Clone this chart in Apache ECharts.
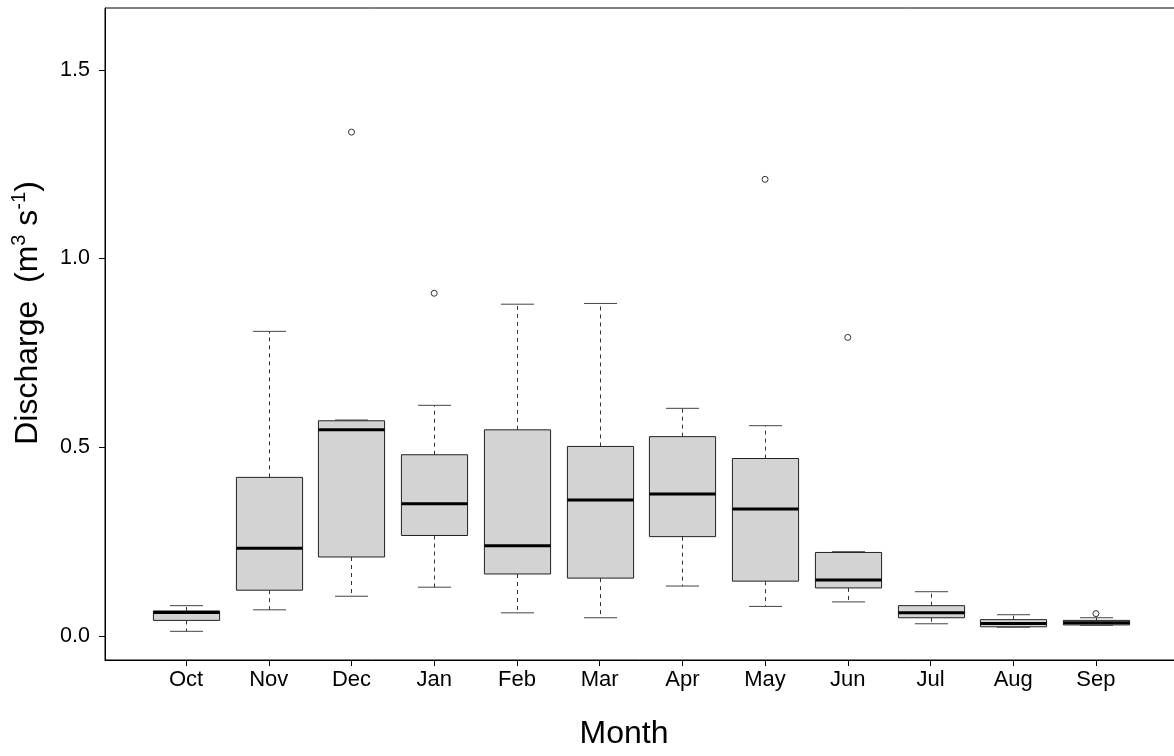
<!DOCTYPE html>
<html><head><meta charset="utf-8">
<script src="https://cdn.jsdelivr.net/npm/echarts@6/dist/echarts.min.js"></script>
<style>html,body{margin:0;padding:0;background:#fff;overflow:hidden}#c{width:1174px;height:756px}</style>
</head><body><div id="c"></div>
<script>
const months = ['Oct','Nov','Dec','Jan','Feb','Mar','Apr','May','Jun','Jul','Aug','Sep'];
const whiskerLow  = [0.012, 0.069, 0.105, 0.129, 0.061, 0.048, 0.132, 0.078, 0.090, 0.032, 0.023, 0.028];
const q1          = [0.041, 0.121, 0.209, 0.266, 0.164, 0.153, 0.263, 0.145, 0.127, 0.048, 0.024, 0.029];
const medians     = [0.062, 0.232, 0.546, 0.350, 0.239, 0.360, 0.376, 0.336, 0.148, 0.061, 0.033, 0.035];
const q3          = [0.066, 0.420, 0.570, 0.480, 0.546, 0.502, 0.528, 0.470, 0.221, 0.080, 0.043, 0.041];
const whiskerHigh = [0.080, 0.807, 0.572, 0.611, 0.879, 0.881, 0.603, 0.557, 0.223, 0.117, 0.056, 0.048];
const outlierMonth = ['Dec','Jan','May','Jun','Sep'];
const outlierValue = [1.335, 0.908, 1.210, 0.791, 0.059];
const yTicks = [0, 0.5, 1.0, 1.5];

const FONT = '"Liberation Sans", Arial, sans-serif';
const positions = months.map((m, i) => i + 1);
const boxData = months.map((m, i) => [i + 1, whiskerLow[i], q1[i], medians[i], q3[i], whiskerHigh[i]]);
const outlierData = outlierMonth.map((m, i) => [months.indexOf(m) + 1, outlierValue[i]]);

function renderBox(params, api) {
  const x = api.value(0);
  const boxHalf = api.size([0.4, 0])[0];
  const capHalf = api.size([0.2, 0])[0];
  const pLo = api.coord([x, api.value(1)]);
  const pQ1 = api.coord([x, api.value(2)]);
  const pMed = api.coord([x, api.value(3)]);
  const pQ3 = api.coord([x, api.value(4)]);
  const pHi = api.coord([x, api.value(5)]);
  const cx = Math.round(pLo[0]) + 0.5;
  const wStyle = { stroke: '#333', lineWidth: 1, lineDash: [4, 4] };
  const cStyle = { stroke: '#444', lineWidth: 1 };
  return {
    type: 'group',
    children: [
      { type: 'line', shape: { x1: cx, y1: pQ3[1], x2: cx, y2: pHi[1] }, style: wStyle },
      { type: 'line', shape: { x1: cx, y1: pQ1[1], x2: cx, y2: pLo[1] }, style: wStyle },
      { type: 'line', shape: { x1: cx - capHalf, y1: pHi[1], x2: cx + capHalf, y2: pHi[1] }, style: cStyle },
      { type: 'line', shape: { x1: cx - capHalf, y1: pLo[1], x2: cx + capHalf, y2: pLo[1] }, style: cStyle },
      { type: 'rect', shape: { x: cx - boxHalf, y: pQ3[1], width: 2 * boxHalf, height: pQ1[1] - pQ3[1] },
        style: { fill: '#D3D3D3', stroke: '#222', lineWidth: 1 } },
      { type: 'line', shape: { x1: cx - boxHalf, y1: pMed[1], x2: cx + boxHalf, y2: pMed[1] },
        style: { stroke: '#000', lineWidth: 3 } }
    ]
  };
}

const chart = echarts.init(document.getElementById('c'), null, { renderer: 'canvas' });
chart.setOption({
  animation: false,
  backgroundColor: '#fff',
  grid: { left: 105, right: -3, top: 8, bottom: 96, outerBoundsMode: 'none', containLabel: false,
    show: true, borderColor: '#000', borderWidth: 1, backgroundColor: 'transparent' },
  xAxis: {
    type: 'value', min: 0.02, max: 12.98,
    name: 'Month', nameLocation: 'middle', nameGap: 58,
    nameTextStyle: { fontFamily: FONT, fontSize: 32, color: '#000', padding: [0, 34, 0, 0] },
    axisLine: { show: true, onZero: false, lineStyle: { color: '#000', width: 1 } },
    axisTick: { show: true, customValues: positions, length: 6, lineStyle: { color: '#000' } },
    axisLabel: { show: true, customValues: positions, margin: 9, fontFamily: FONT, fontSize: 22, color: '#000',
      formatter: v => months[Math.round(v) - 1] || '' },
    splitLine: { show: false }
  },
  yAxis: {
    type: 'value', min: -0.064, max: 1.664,
    name: '{a|Discharge  (m}{s|3}{a| s}{s|-1}{a|)}', nameLocation: 'middle', nameGap: 58, nameRotate: 90,
    nameTextStyle: {
      fontFamily: FONT, fontSize: 32, color: '#000', padding: [0, 0, 0, 42],
      rich: {
        a: { fontFamily: FONT, fontSize: 32, color: '#000', lineHeight: 38 },
        s: { fontFamily: FONT, fontSize: 20, color: '#000', lineHeight: 24, verticalAlign: 'top' }
      }
    },
    axisLine: { show: true, onZero: false, lineStyle: { color: '#000', width: 1 } },
    axisTick: { show: true, customValues: yTicks, length: 6, lineStyle: { color: '#000' } },
    axisLabel: { show: true, customValues: yTicks, margin: 15, fontFamily: FONT, fontSize: 21.5, color: '#000',
      formatter: v => Number(v).toFixed(1) },
    splitLine: { show: false }
  },
  series: [
    { type: 'custom', renderItem: renderBox, data: boxData, encode: { x: 0, y: [1, 2, 3, 4, 5] }, clip: false },
    { type: 'scatter', data: outlierData, symbol: 'circle', symbolSize: 6,
      itemStyle: { color: '#fff', borderColor: '#333', borderWidth: 1, opacity: 1 } }
  ]
});
</script>
</body></html>
